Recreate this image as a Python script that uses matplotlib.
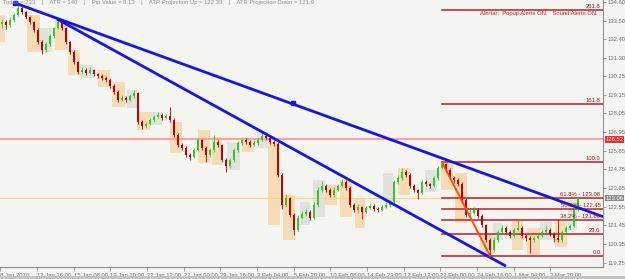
import numpy as np
import matplotlib.pyplot as plt
from matplotlib.patches import Rectangle

plt.rcParams['font.family'] = ['Liberation Sans', 'DejaVu Sans']

# 4H candles, roughly one every 4 px of the original chart
closes = [133.43, 133.25, 133.54, 133.84, 134.25, 134.01, 133.72, 133.43, 132.96, 132.25,
          131.78, 132.13, 132.60, 133.07, 133.43, 133.07, 132.25, 131.66, 131.07, 130.48,
          130.60, 130.43, 130.60, 130.37, 130.25, 130.13, 130.01, 129.66, 129.31, 128.84,
          128.96, 128.84, 129.07, 129.25, 127.54, 127.31, 127.43, 127.66, 127.84, 127.96,
          127.78, 127.90, 127.66, 126.78, 126.19, 126.01, 125.60, 125.48, 125.90, 126.48,
          126.01, 125.60, 125.90, 126.37, 126.19, 125.31, 124.96, 125.31, 125.90, 126.31,
          126.48, 126.37, 126.19, 126.31, 126.48, 126.72, 126.60, 126.37, 126.25, 124.43,
          122.66, 123.07, 122.07, 121.19, 121.90, 122.13, 122.25, 121.90, 122.66, 123.54,
          123.78, 123.54, 123.25, 123.54, 123.78, 124.01, 123.66, 122.66, 122.37, 122.54,
          122.25, 122.48, 122.60, 122.43, 122.37, 122.54, 122.66, 122.84, 124.01, 124.25,
          124.60, 124.43, 123.78, 123.54, 123.37, 124.01, 123.90, 123.78, 124.25, 124.84,
          125.07, 124.72, 124.25, 124.13, 123.90, 122.96, 122.07, 122.19, 122.37, 122.01,
          121.48, 120.60, 120.01, 120.60, 121.07, 121.31, 121.07, 120.84, 121.19, 121.31,
          120.84, 120.72, 120.60, 120.72, 120.84, 121.07, 121.19, 120.96, 120.72, 120.60,
          121.07, 121.31, 121.43, 122.37, 123.07]
highs = [133.60, 133.55, 133.70, 133.95, 134.40, 134.35, 134.10, 133.80, 133.50, 133.05,
         132.35, 132.25, 132.70, 133.15, 133.60, 133.50, 133.15, 132.30, 131.75, 131.15,
         130.75, 130.70, 130.80, 130.65, 130.45, 130.35, 130.25, 130.10, 129.75, 129.40,
         129.10, 129.05, 129.20, 129.40, 129.30, 127.65, 127.55, 127.80, 127.95, 128.10,
         128.05, 128.00, 128.40, 127.75, 126.90, 126.30, 126.10, 125.70, 126.00, 126.60,
         126.55, 126.10, 126.00, 126.75, 126.45, 126.25, 125.40, 125.40, 126.00, 126.40,
         126.60, 126.60, 126.45, 126.45, 126.60, 126.90, 126.80, 126.70, 126.45, 126.35,
         124.55, 123.30, 123.15, 122.15, 122.05, 122.30, 122.40, 122.35, 122.80, 123.70,
         124.05, 123.90, 123.65, 123.70, 123.90, 124.20, 124.10, 123.75, 122.75, 122.70,
         122.60, 122.60, 122.75, 122.70, 122.55, 122.65, 122.80, 122.95, 124.10, 124.40,
         124.80, 124.70, 124.55, 123.90, 123.60, 124.15, 124.10, 123.95, 124.35, 124.95,
         125.17, 125.10, 124.80, 124.35, 124.25, 124.00, 123.05, 122.40, 122.55, 122.50,
         122.10, 121.55, 120.70, 120.75, 121.20, 121.50, 121.40, 121.15, 121.30, 121.75,
         121.40, 120.95, 120.85, 120.85, 120.95, 121.20, 121.40, 121.30, 121.05, 121.80,
         121.15, 121.40, 121.55, 122.45, 123.15]
lows = [133.05, 133.00, 133.15, 133.45, 133.75, 133.90, 133.60, 133.30, 132.85, 132.10,
        131.55, 131.65, 132.00, 132.50, 133.00, 132.95, 132.15, 131.55, 130.95, 130.35,
        130.35, 130.30, 130.35, 130.25, 130.10, 130.00, 129.90, 129.55, 129.20, 128.70,
        128.75, 128.70, 128.75, 128.95, 127.40, 127.15, 127.20, 127.35, 127.55, 127.75,
        127.65, 127.70, 127.55, 126.65, 126.05, 125.90, 125.45, 125.30, 125.40, 125.85,
        125.90, 125.20, 125.50, 125.80, 126.05, 125.20, 124.60, 124.85, 125.20, 125.80,
        126.20, 126.25, 126.05, 126.10, 126.20, 126.40, 126.45, 126.25, 126.10, 124.30,
        122.40, 122.55, 121.95, 120.90, 121.10, 121.80, 122.00, 121.75, 121.85, 122.55,
        123.40, 123.40, 123.10, 123.15, 123.45, 123.70, 123.55, 122.55, 122.25, 122.20,
        121.85, 122.15, 122.40, 122.30, 122.25, 122.30, 122.45, 122.55, 122.75, 123.90,
        124.15, 124.30, 123.65, 123.40, 123.00, 123.30, 123.75, 123.65, 123.70, 124.15,
        124.75, 124.60, 124.10, 123.95, 123.75, 122.85, 121.95, 121.95, 122.10, 121.90,
        121.35, 120.45, 119.62, 119.90, 120.50, 121.00, 120.95, 120.70, 120.75, 121.10,
        120.70, 120.55, 119.80, 120.50, 120.65, 120.75, 121.00, 120.85, 120.45, 120.45,
        120.50, 121.00, 121.20, 121.35, 122.30]
first_open = 133.30
opens = [first_open] + closes[:-1]

# session boxes: start bar, end bar, top, bottom, kind
box_start = [-0.5, 6.2, 9.5, 13.2, 16.5, 19.5, 24.0, 27.5, 31.2, 33.8, 37.0, 42.0, 49.0, 52.5,
             56.2, 60.0, 63.8, 66.5, 70.2, 74.5, 77.8, 80.8, 84.5, 88.2, 95.2, 99.0, 105.8,
             109.8, 113.2, 119.5, 122.8, 127.5, 131.2, 134.5, 138.2, 141.5]
box_end = [0.8, 9.5, 12.5, 16.5, 19.5, 22.8, 27.0, 30.8, 33.8, 37.0, 40.0, 45.0, 52.0, 55.0,
           59.5, 62.8, 66.5, 69.5, 73.2, 77.0, 80.8, 83.8, 87.5, 90.8, 97.8, 102.0, 108.8,
           112.8, 116.2, 122.8, 125.2, 130.2, 134.5, 137.5, 141.2, 143.8]
box_top = [133.84, 133.84, 133.07, 133.54, 131.78, 130.90, 130.60, 129.90, 129.43, 128.13,
           128.13, 127.54, 127.08, 126.66, 126.37, 126.60, 126.96, 126.37, 123.25, 122.84,
           124.13, 123.84, 124.13, 123.07, 124.54, 124.84, 124.72, 125.13, 124.54, 120.90,
           121.60, 121.78, 121.31, 121.66, 121.66, 122.96]
box_bot = [132.25, 131.66, 131.66, 131.78, 130.31, 130.13, 129.60, 128.43, 128.37, 127.08,
           127.37, 125.72, 125.13, 125.01, 124.72, 125.78, 126.01, 121.48, 120.60, 121.48,
           121.96, 122.66, 121.96, 121.31, 122.84, 123.25, 123.43, 123.54, 121.60, 119.60,
           120.60, 120.02, 119.72, 120.60, 120.19, 121.19]
box_kind = ['o', 'o', 'g', 'o', 'o', 'g', 'o', 'o', 'g', 'o', 'g', 'o', 'o', 'o', 'g', 'o',
            'g', 'o', 'o', 'g', 'g', 'o', 'o', 'o', 'g', 'o', 'g', 'o', 'o', 'o', 'g', 'o',
            'o', 'g', 'o', 'g']

# trend lines (bar, price)
line_a = [(3.25, 134.54), (150.25, 121.96)]
line_b = [(13.75, 133.60), (126.0, 119.05)]
fib_swing = [(110.0, 125.17), (122.0, 119.66)]
fib_start = 110.0
fib_levels = [119.62, 120.93, 121.74, 122.40, 123.05, 125.17, 128.60, 134.15]
fib_labels = ['0.0', '23.6', '38.2% - 121.80', '50.0% - 122.45', '61.8% - 123.08',
              '100.0', '161.8', '261.8']
ref_level = 126.52
bid = 123.06

yticks = [134.60, 133.50, 132.40, 131.30, 130.25, 129.15, 128.05, 126.95, 125.85,
          124.75, 123.65, 122.55, 121.45, 120.35, 119.25]
xtick_pos = [-0.5, 8.75, 17.9, 27.1, 36.25, 45.4, 54.6, 63.75, 72.9, 82.1, 91.25,
             100.4, 109.6, 118.75, 127.9, 137.1]
xtick_lab = ['8 Jan 2010', '12 Jan 16:00', '15 Jan 08:00', '19 Jan 20:00', '22 Jan 12:00',
             '27 Jan 00:00', '29 Jan 16:00', '3 Feb 04:00', '5 Feb 20:00', '10 Feb 08:00',
             '14 Feb 23:00', '17 Feb 12:00', '22 Feb 00:00', '24 Feb 16:00', '1 Mar 04:00',
             '3 Mar 20:00']

bg = '#f4f4f0'
fs = 4.2
fig = plt.figure(figsize=(6.25, 2.79), dpi=100)
fig.patch.set_facecolor(bg)
ax = fig.add_axes([0, 12 / 279, 603 / 625, 267 / 279])
ax.set_facecolor(bg)
ax.set_xlim(-0.5, 150.25)
ax.set_ylim(119.0, 134.72)

# boxes
for s, e, t, b, k in zip(box_start, box_end, box_top, box_bot, box_kind):
    c = '#f6dcb4' if k == 'o' else '#e2e2dc'
    ax.add_patch(Rectangle((s, b), e - s, t - b, facecolor=c, edgecolor='none', zorder=1))

# horizontal reference lines
ax.axhline(ref_level, color='#ff9a9a', lw=1.3, zorder=2)
ax.axhline(bid, color='#ffd27a', lw=0.8, zorder=2)
for lv in fib_levels:
    ax.plot([fib_start, 150.25], [lv, lv], color='#c0303a', lw=1.2, zorder=2)

# candles
x = np.arange(len(closes))
o = np.array(opens)
c = np.array(closes)
up = c >= o
cols = np.where(up, '#2ec82e', '#c00000')
ax.vlines(x, lows, highs, colors=cols, lw=0.6, zorder=3)
ax.bar(x, np.maximum(np.abs(c - o), 0.03), bottom=np.minimum(o, c), width=0.6,
       color=cols, edgecolor='none', zorder=4)

# trend lines
ax.plot(*zip(*line_a), color='#1515e6', lw=2.0, zorder=5, solid_capstyle='butt')
ax.plot(*zip(*line_b), color='#1515e6', lw=2.0, zorder=5, solid_capstyle='butt')
ax.plot(*zip(*fib_swing), color='#ff4a10', lw=1.4, zorder=5)
ax.plot([line_a[0][0]], [line_a[0][1]], 's', color='#1515e6', ms=3.5, zorder=6)
ax.plot([72.75], [128.66], 's', color='#1515e6', ms=2.5, zorder=6)

# fib labels
for lv, lb in zip(fib_levels, fib_labels):
    ax.text(149.6, lv + 0.06, lb, fontsize=fs, color='#a02020', ha='right', va='bottom', zorder=7)

ax.text(0.3, 134.70, 'Today = 233    |    ATR = 140    |    Pip Value = 8.13    |    '
        'ATR Projection Up = 122.39    |    ATR Projection Down = 121.9',
        fontsize=fs, color='#909090', ha='left', va='top', zorder=7)
ax.text(149.0, 134.05, 'Alertar:  Popup Alerts ON.   Sound Alerts ON.',
        fontsize=fs, color='#e02020', ha='right', va='top', zorder=7)

# axes styling
for s in ['top', 'left']:
    ax.spines[s].set_visible(False)
ax.spines['right'].set_color('#909090')
ax.spines['bottom'].set_color('#909090')
ax.spines['right'].set_linewidth(0.8)
ax.spines['bottom'].set_linewidth(0.8)
ax.yaxis.tick_right()
ax.set_yticks(yticks)
ax.set_yticklabels(['%.2f' % v for v in yticks])
ax.tick_params(axis='y', labelsize=fs, labelcolor='#707070', color='#909090',
               length=2, width=0.6, pad=1.5)
ax.set_xticks(xtick_pos)
ax.set_xticklabels(xtick_lab, ha='left')
ax.tick_params(axis='x', labelsize=fs, labelcolor='#707070', color='#909090',
               length=3, width=0.6, pad=1)

ax.text(1.004, ref_level, '%.2f' % ref_level, transform=ax.get_yaxis_transform(),
        fontsize=fs, color='white', va='center', ha='left',
        bbox=dict(boxstyle='square,pad=0.15', fc='#ff2828', ec='none'))
ax.text(1.004, bid, '%.2f' % bid, transform=ax.get_yaxis_transform(),
        fontsize=fs, color='white', va='center', ha='left',
        bbox=dict(boxstyle='square,pad=0.15', fc='#8a8a8a', ec='none'))

fig.add_artist(Rectangle((0, 0), 1, 3 / 279, transform=fig.transFigure,
                         facecolor='#c4c4c0', edgecolor='none'))

fig.savefig('out.png', dpi=100, facecolor=bg)
